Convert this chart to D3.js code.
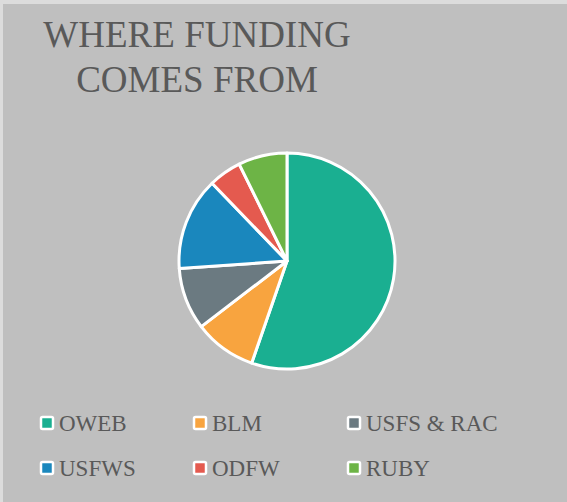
<!DOCTYPE html>
<html>
<head>
<meta charset="utf-8">
<script src="https://cdn.jsdelivr.net/npm/d3@7"></script>
<style>
  html, body { margin: 0; padding: 0; background: #dcdcdc; }
  svg { display: block; }
</style>
</head>
<body>
<svg id="chart"></svg>
<script>
// Funding sources and share (%)
const sources = ["OWEB", "BLM", "USFS & RAC", "USFWS", "ODFW", "RUBY"];
const shares = [55.3, 9.3, 9.3, 13.9, 4.9, 7.3];
const colors = ["#1aaf91", "#f8a43f", "#6b7a81", "#1a87bd", "#e45a4f", "#6db446"];
const titleLines = ["WHERE FUNDING", "COMES FROM"];

const width = 567, height = 502;
const fontFamily = "'Palatino Linotype', 'Book Antiqua', Palatino, 'Liberation Serif', serif";

const svg = d3.select("#chart")
  .attr("width", width)
  .attr("height", height);

// chart area background
svg.append("rect")
  .attr("x", 3)
  .attr("y", 4)
  .attr("width", width - 3)
  .attr("height", height - 4)
  .attr("fill", "#bfbfbf");

// Title
svg.append("text")
  .attr("x", 197)
  .attr("text-anchor", "middle")
  .attr("font-family", fontFamily)
  .attr("font-size", 37)
  .attr("fill", "#595959")
  .selectAll("tspan")
  .data(titleLines)
  .join("tspan")
  .attr("x", 197)
  .attr("y", (d, i) => 47 + i * 45)
  .text(d => d);

// Pie
const data = sources.map((s, i) => ({ name: s, value: shares[i], color: colors[i] }));
const pie = d3.pie().sort(null).value(d => d.value);
const arc = d3.arc().innerRadius(0).outerRadius(108);

const g = svg.append("g")
  .attr("transform", "translate(287,261)");

g.selectAll("path")
  .data(pie(data))
  .join("path")
  .attr("d", arc)
  .attr("fill", d => d.data.color)
  .attr("stroke", "#ffffff")
  .attr("stroke-width", 3)
  .attr("stroke-linejoin", "round");

// Legend: 3 columns, 2 rows
const colX = [40, 193, 347];
const rowY = [423, 468];

const legend = svg.append("g")
  .selectAll("g")
  .data(data)
  .join("g")
  .attr("transform", (d, i) => `translate(${colX[i % 3]},${rowY[Math.floor(i / 3)]})`);

legend.append("rect")
  .attr("x", 1)
  .attr("y", -6)
  .attr("width", 12)
  .attr("height", 12)
  .attr("rx", 1.5)
  .attr("fill", d => d.color)
  .attr("stroke", "#ffffff")
  .attr("stroke-width", 2.5);

legend.append("text")
  .attr("x", 19)
  .attr("y", 8)
  .attr("font-family", fontFamily)
  .attr("font-size", 23)
  .attr("fill", "#595959")
  .text(d => d.name);
</script>
</body>
</html>
